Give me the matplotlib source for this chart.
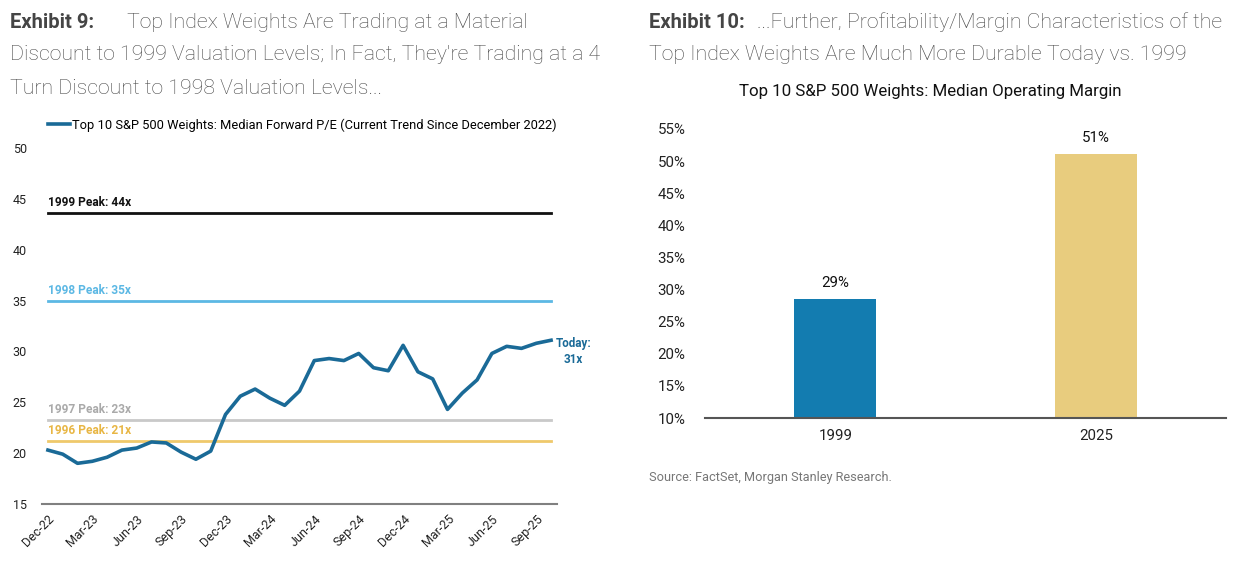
import matplotlib.pyplot as plt

plt.rcParams['font.family'] = ['Roboto', 'DejaVu Sans']

# Exhibit 9: median forward P/E, monthly from Dec-22
pe_values = [20.3, 19.9, 19.0, 19.2, 19.6, 20.3, 20.5, 21.1, 21.0, 20.1,
             19.4, 20.2, 23.8, 25.6, 26.3, 25.4, 24.7, 26.1, 29.1, 29.3,
             29.1, 29.8, 28.4, 28.1, 30.6, 28.0, 27.3, 24.3, 25.9, 27.2,
             29.8, 30.5, 30.3, 30.8, 31.1]
tick_labels = ['Dec-22', 'Mar-23', 'Jun-23', 'Sep-23', 'Dec-23', 'Mar-24',
               'Jun-24', 'Sep-24', 'Dec-24', 'Mar-25', 'Jun-25', 'Sep-25']
peak_labels = ['1999 Peak: 44x', '1998 Peak: 35x', '1997 Peak: 23x', '1996 Peak: 21x']
peak_values = [43.6, 34.95, 23.25, 21.15]
peak_colors = ['#111111', '#5cb8e4', '#c9c9c9', '#efc96b']
peak_text_colors = ['#111111', '#5cb8e4', '#aaaaaa', '#e8b644']

# Exhibit 10: median operating margin
years = ['1999', '2025']
margins = [28.6, 51.1]
bar_colors = ['#137cb0', '#e8cc7e']

line_color = '#1a6a97'

fig = plt.figure(figsize=(12.41, 5.70), dpi=100)

# titles
bold_kw = dict(fontsize=14.5, va='center', ha='left', color='#454545', fontweight='bold')
light_kw = dict(fontsize=15.3, va='center', ha='left', color='#484848', fontweight='light')
fig.text(10 / 1241, 1 - 22 / 570, 'Exhibit 9:', **bold_kw)
fig.text(127 / 1241, 1 - 22 / 570, 'Top Index Weights Are Trading at a Material', **light_kw)
fig.text(10 / 1241, 1 - 55 / 570, "Discount to 1999 Valuation Levels; In Fact, They're Trading at a 4", **light_kw)
fig.text(10 / 1241, 1 - 88 / 570, 'Turn Discount to 1998 Valuation Levels...', **light_kw)
fig.text(649 / 1241, 1 - 22 / 570, 'Exhibit 10:', **bold_kw)
fig.text(757 / 1241, 1 - 22 / 570, '...Further, Profitability/Margin Characteristics of the', **light_kw)
fig.text(649 / 1241, 1 - 55 / 570, 'Top Index Weights Are Much More Durable Today vs. 1999', **light_kw)

# left chart
ax1 = fig.add_axes([42 / 1241, 1 - 504 / 570, 515 / 1241, 356 / 570])
x = list(range(len(pe_values)))
for lab, val, c, tc in zip(peak_labels, peak_values, peak_colors, peak_text_colors):
    ax1.plot([0, len(pe_values) - 1], [val, val], color=c, lw=2)
    ax1.text(0, val + 0.4, lab, color=tc, fontsize=8.6, fontweight='bold', va='bottom', ha='left')
ax1.plot(x, pe_values, color=line_color, lw=2.6, solid_joinstyle='round',
         label='Top 10 S&P 500 Weights: Median Forward P/E (Current Trend Since December 2022)')
ax1.annotate('Today:\n31x', xy=(len(pe_values) - 1, pe_values[-1]), xytext=(16, -8),
             textcoords='offset points', color=line_color, fontsize=8.4, fontweight='bold',
             ha='center', va='center', linespacing=1.3, annotation_clip=False)
ax1.set_xlim(-0.4, 34.4)
ax1.set_ylim(15, 50)
ax1.set_yticks([15, 20, 25, 30, 35, 40, 45, 50])
ax1.set_xticks(list(range(0, len(pe_values), 3)))
ax1.set_xticklabels(tick_labels, rotation=45, ha='right', rotation_mode='anchor')
ax1.tick_params(axis='both', length=0, labelsize=9, colors='#222222')
ax1.tick_params(axis='y', pad=11)
ax1.tick_params(axis='x', pad=6)
for s in ['top', 'right', 'left']:
    ax1.spines[s].set_visible(False)
ax1.spines['bottom'].set_color('#808080')
ax1.spines['bottom'].set_linewidth(1.5)
ax1.legend(loc='lower left', bbox_to_anchor=(0.012, 1.045), frameon=False,
           fontsize=9.3, handlelength=1.7, handletextpad=0.15, borderaxespad=0.0, borderpad=0.0)

# right chart
ax2 = fig.add_axes([705 / 1241, 1 - 418 / 570, 521 / 1241, 289 / 570])
ax2.bar(years, margins, color=bar_colors, width=0.315, bottom=0)
for i, v in enumerate(margins):
    ax2.text(i, v + 1.4, f'{v:.0f}%', ha='center', va='bottom', fontsize=10.8, color='#111111')
ax2.set_xlim(-0.5, 1.5)
ax2.set_ylim(10, 55)
ax2.set_yticks(list(range(10, 56, 5)))
ax2.set_yticklabels([f'{t}%' for t in range(10, 56, 5)])
ax2.tick_params(axis='both', length=0, labelsize=10.8, colors='#222222')
ax2.tick_params(axis='y', pad=14)
ax2.tick_params(axis='x', pad=8)
for s in ['top', 'right', 'left']:
    ax2.spines[s].set_visible(False)
ax2.spines['bottom'].set_color('#555555')
ax2.spines['bottom'].set_linewidth(1.5)
fig.text(930 / 1241, 1 - 91 / 570, 'Top 10 S&P 500 Weights: Median Operating Margin',
         ha='center', va='center', fontsize=12.2, color='#111111')
fig.text(649 / 1241, 1 - 477 / 570, 'Source: FactSet, Morgan Stanley Research.',
         ha='left', va='center', fontsize=9.2, color='#777777')

fig.savefig('out.png', dpi=100)
